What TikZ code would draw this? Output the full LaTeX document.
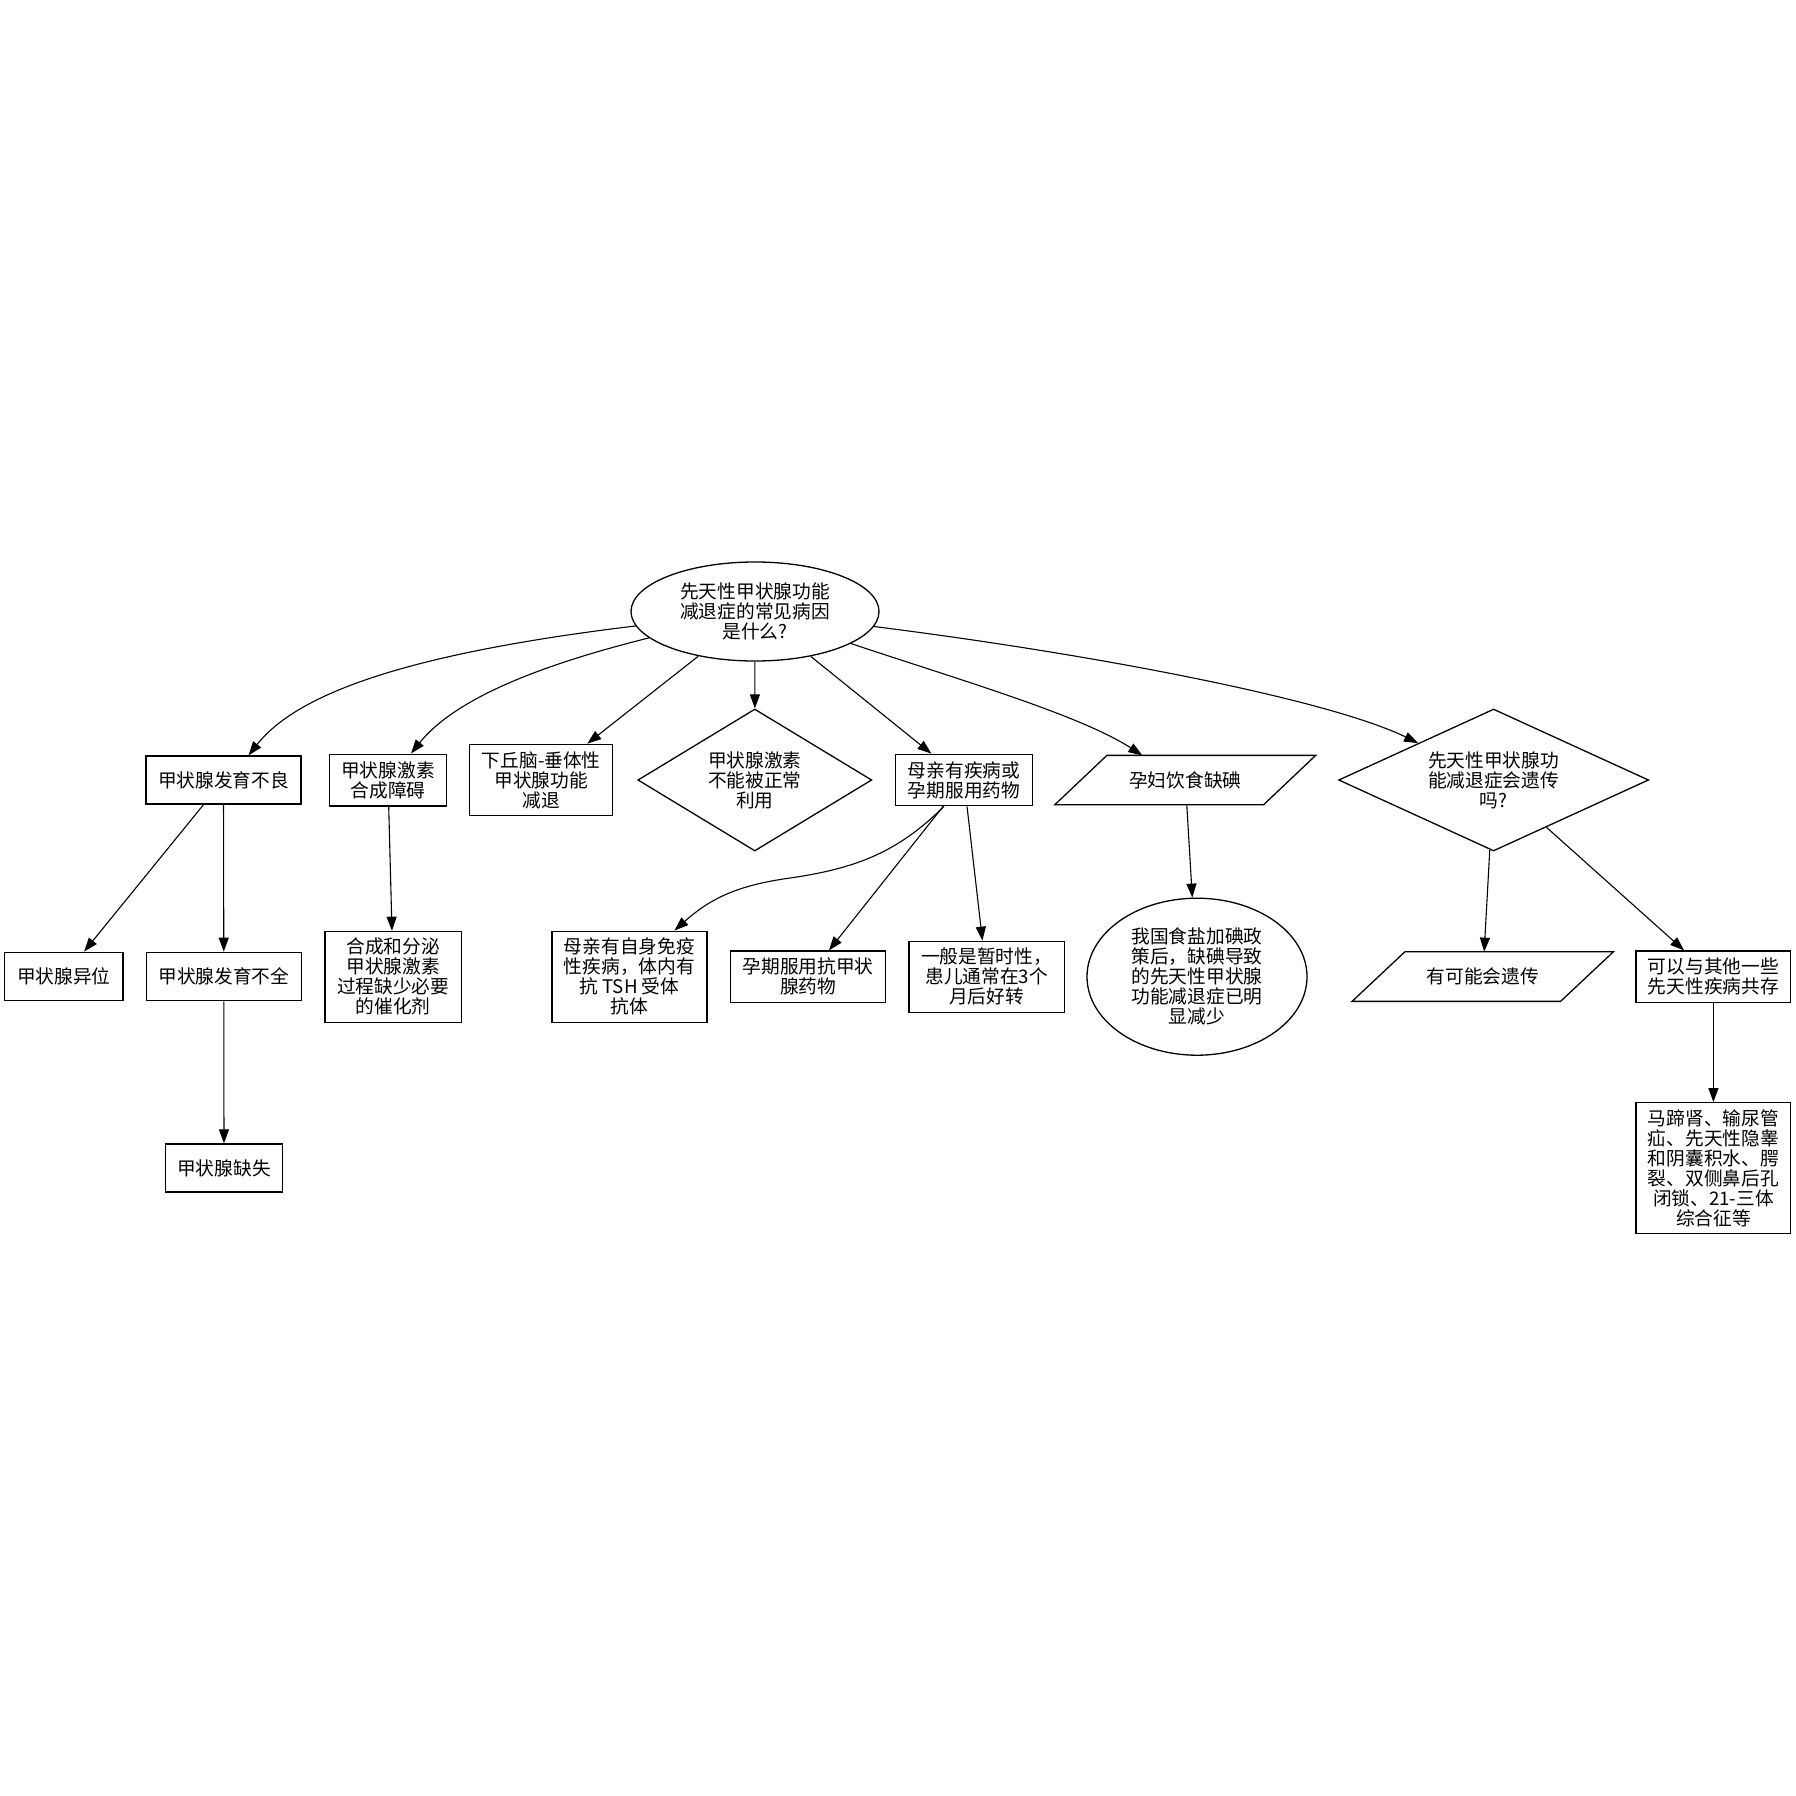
\documentclass[tikz,border=0pt]{standalone}
\usepackage{fontspec}
\newfontfamily\cjk{Noto Sans CJK SC}
\usetikzlibrary{shapes.geometric,arrows.meta,calc}
\begin{document}
\begin{tikzpicture}[x=1pt,y=-1pt,
  base/.style={font=\cjk\fontsize{18.7pt}{20pt}\selectfont, align=center, inner sep=0pt, line width=1.3pt},
  box/.style={base, draw, rectangle},
  oval/.style={base, draw, ellipse},
  diam/.style={base, draw, diamond},
  slantbox/.style={base, rectangle},
  outline/.style={line width=1.3pt, line join=miter},
  link/.style={line width=1.1pt, -{Triangle[length=14pt,width=10pt]}}
]
\useasboundingbox (0,0) rectangle (1796,1796);

% root question
\node[oval, minimum width=248, minimum height=99] (root) at (755,611.5)
  {先天性甲状腺功能\\减退症的常见病因\\是什么?};

% first level
\node[box, minimum width=155, minimum height=48] (A) at (223.5,780) {甲状腺发育不良};
\node[box, minimum width=117.4, minimum height=51.7] (B) at (388,780) {甲状腺激素\\合成障碍};
\node[box, minimum width=143, minimum height=71.4] (C) at (541.3,780) {下丘脑-垂体性\\甲状腺功能\\减退};
\node[diam, shape aspect=1.65, minimum width=234, minimum height=142] (D) at (754.8,780) {甲状腺激素\\不能被正常\\利用};
\node[box, minimum width=136.4, minimum height=51.4] (E) at (964,780) {母亲有疾病或\\孕期服用药物};
\node[slantbox, minimum width=259.5, minimum height=48] (F) at (1185.3,780) {孕妇饮食缺碘};
\node[diam, shape aspect=2.18, minimum width=310, minimum height=142] (G) at (1493.6,780) {先天性甲状腺功\\能减退症会遗传\\吗?};

% second level
\node[box, minimum width=118.3, minimum height=48.4] (H) at (63.9,976.5) {甲状腺异位};
\node[box, minimum width=155, minimum height=48.4] (I) at (223.8,976.5) {甲状腺发育不全};
\node[box, minimum width=117.4, minimum height=48] (J) at (224,1168) {甲状腺缺失};
\node[box, minimum width=136.4, minimum height=91] (K) at (393.2,976.8) {合成和分泌\\甲状腺激素\\过程缺少必要\\的催化剂};
\node[box, minimum width=155, minimum height=91] (L) at (629.4,976.7) {母亲有自身免疫\\性疾病，体内有\\抗 TSH 受体\\抗体};
\node[box, minimum width=155, minimum height=51.3] (M) at (808.1,976.7) {孕期服用抗甲状\\腺药物};
\node[box, minimum width=155.4, minimum height=71] (N) at (986.6,976.8) {一般是暂时性，\\患儿通常在3个\\月后好转};
\node[oval, minimum width=220, minimum height=157] (O) at (1197,976.7) {我国食盐加碘政\\策后，缺碘导致\\的先天性甲状腺\\功能减退症已明\\显减少};
\node[slantbox, minimum width=260.2, minimum height=48.4] (P) at (1482.8,976.5) {有可能会遗传};
\node[box, minimum width=154.6, minimum height=51.3] (Q) at (1713.4,976.7) {可以与其他一些\\先天性疾病共存};
\node[box, minimum width=154.6, minimum height=130.6] (R) at (1713.4,1168) {马蹄肾、输尿管\\疝、先天性隐睾\\和阴囊积水、腭\\裂、双侧鼻后孔\\闭锁、21-三体\\综合征等};

% parallelogram outlines
\draw[outline] (F.south west) -- ($(F.south east)+(-52,0)$) -- (F.north east) -- ($(F.north west)+(52,0)$) -- cycle;
\draw[outline] (P.south west) -- ($(P.south east)+(-53,0)$) -- (P.north east) -- ($(P.north west)+(53,0)$) -- cycle;

% connectors from the root
\draw[link] (root) .. controls (420,652) and (300,690) .. ([xshift=25]A.north);
\draw[link] (root) .. controls (520,670) and (450,705) .. ([xshift=23]B.north);
\draw[link] (root) -- (C);
\draw[link] (root) -- (D);
\draw[link] (root) -- (E);
\draw[link] (root) .. controls (960,680) and (1080,715) .. ([xshift=-43]F.north);
\draw[link] (root) .. controls (1100,655) and (1330,700) .. (G);

% lower connectors
\draw[link] (A) -- (H);
\draw[link] (A) -- (I);
\draw[link] (I) -- (J);
\draw[link] (B) -- (K);
\draw[link] ([xshift=-20]E.south) .. controls (900,850) and (860,868) .. (790,878)
  .. controls (740,885) and (712,897) .. ([xshift=45]L.north);
\draw[link] (E) -- (M);
\draw[link] (E) -- (N);
\draw[link] (F) -- (O);
\draw[link] (G) -- (P);
\draw[link] (G) -- (Q);
\draw[link] (Q) -- (R);
\end{tikzpicture}
\end{document}
